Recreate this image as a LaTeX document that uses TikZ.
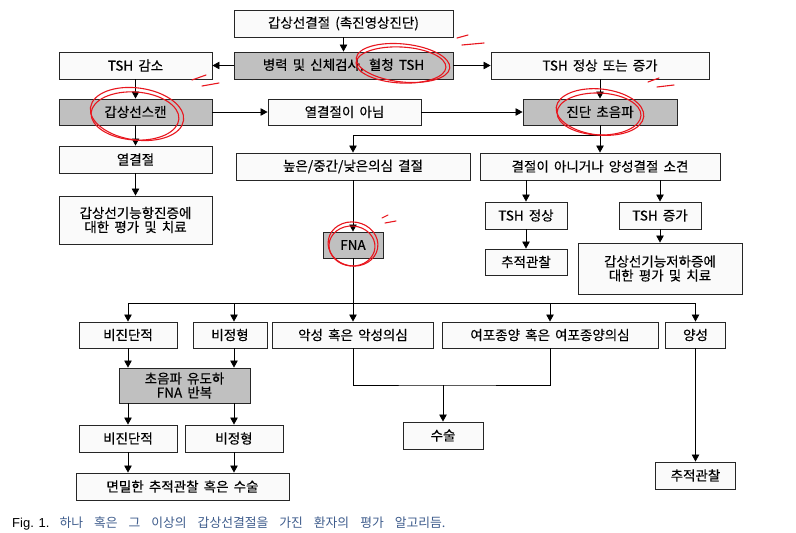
\documentclass[tikz,border=0pt]{standalone}
\usepackage{fontspec}
\setmainfont[FakeBold=0.3]{Noto Sans CJK KR}
\newfontfamily\figfont{Liberation Sans}
\newfontfamily\capfont{Noto Sans CJK KR}
\usetikzlibrary{arrows.meta}
\definecolor{boxgray}{RGB}{192,192,192}
\definecolor{boxwhite}{RGB}{250,250,250}
\definecolor{capblue}{RGB}{62,92,140}
\definecolor{penred}{RGB}{232,22,30}
\begin{document}
\begin{tikzpicture}[x=1pt,y=-1pt]
	\tikzstyle{every node}+=[inner sep=0pt]
	\tikzstyle{box}=[draw=black!85,line width=0.9pt,fill=boxwhite,minimum height=27pt,align=center,font={\fontsize{13.5}{14}\selectfont\spaceskip 0.38em\relax}]
	\tikzstyle{graybox}=[box,fill=boxgray]
	\tikzstyle{arr}=[-{Triangle[length=7pt,width=7.5pt]},line width=0.8pt]
	\tikzstyle{redpen}=[draw=penred,line width=1.1pt,line cap=round]
	\useasboundingbox (0,0) rectangle (796,533);
	\node[box,minimum width=219pt] (top) at (343.5,23.5) {갑상선결절 (촉진영상진단)};
	\node[graybox,minimum width=219pt] (hx) at (343.5,65.5) {병력 및 신체검사, 혈청 TSH};
	\node[box,minimum width=153pt] (tshlow) at (135.5,65.5) {TSH 감소};
	\node[box,minimum width=218pt] (tshhigh) at (600,65.5) {TSH 정상 또는 증가};
	\node[graybox,minimum width=153pt,minimum height=26pt] (scan) at (135.5,112) {갑상선스캔};
	\node[box,minimum width=153pt,minimum height=26pt] (nothot) at (344.5,112) {열결절이 아님};
	\node[graybox,minimum width=154pt,minimum height=26pt] (us) at (600,112) {진단 초음파};
	\node[box,minimum width=153pt] (hot) at (135.5,159.5) {열결절};
	\node[box,minimum width=153pt,minimum height=48pt] (hyper) at (135.5,220) {갑상선기능항진증에\\대한 평가 및 치료};
	\node[box,minimum width=234pt] (susp) at (353,166.5) {높은/중간/낮은의심 결절};
	\node[box,minimum width=240pt] (nonod) at (600,166.5) {결절이 아니거나 양성결절 소견};
	\node[box,minimum width=82pt] (tshn) at (526,215.5) {TSH 정상};
	\node[box,minimum width=82pt] (tshi) at (660,215.5) {TSH 증가};
	\node[box,minimum width=82pt,minimum height=26pt] (fuA) at (526,262) {추적관찰};
	\node[box,minimum width=164pt,minimum height=51pt] (hypo) at (660,268.5) {갑상선기능저하증에\\대한 평가 및 치료};
	\node[graybox,minimum width=60pt,minimum height=26pt] (fna) at (353,245) {FNA};
	\node[box,minimum width=98pt,minimum height=26pt] (ndA) at (128,335) {비진단적};
	\node[box,minimum width=74pt,minimum height=26pt] (atypA) at (230,335) {비정형};
	\node[box,minimum width=161pt,minimum height=26pt] (mal) at (353,335) {악성 혹은 악성의심};
	\node[box,minimum width=216pt,minimum height=26pt] (foll) at (550,335) {여포종양 혹은 여포종양의심};
	\node[box,minimum width=60pt,minimum height=26pt] (ben) at (695.5,335) {양성};
	\node[graybox,minimum width=131pt,minimum height=35pt] (rep) at (184.5,385.5) {초음파 유도하\\FNA 반복};
	\node[box,minimum width=98pt] (ndB) at (128,438.5) {비진단적};
	\node[box,minimum width=98pt] (atypB) at (234,438.5) {비정형};
	\node[box,minimum width=213pt] (close) at (182.5,486.5) {면밀한 추적관찰 혹은 수술};
	\node[box,minimum width=80pt] (surg) at (443,435.5) {수술};
	\node[box,minimum width=80pt] (fuB) at (695.5,475.5) {추적관찰};
	\coordinate (usj) at (600,135);
	\coordinate (fnaj) at (353,303);
	\coordinate (malj) at (443,385);
	\draw[arr] (top) -- (hx);
	\draw[arr] (hx) -- (tshlow);
	\draw[arr] (hx) -- (tshhigh);
	\draw[arr] (tshlow) -- (scan);
	\draw[arr] (scan) -- (hot);
	\draw[arr] (hot) -- (hyper);
	\draw[arr] (scan) -- (nothot);
	\draw[arr] (nothot) -- (us);
	\draw[arr] (tshhigh) -- (us);
	\draw[arr] (us) -- (nonod);
	\draw[arr] (usj) -| (susp);
	\draw[arr] (nonod.south -| tshn) -- (tshn);
	\draw[arr] (nonod.south -| tshi) -- (tshi);
	\draw[arr] (tshn) -- (fuA);
	\draw[arr] (tshi) -- (hypo);
	\draw[arr] (susp) -- (fna);
	\draw (fna) -- (fnaj);
	\draw[arr] (fnaj) -- (mal);
	\draw[arr] (fnaj) -| (ndA);
	\draw[arr] (fnaj) -| (atypA.north -| atypB.north);
	\draw[arr] (fnaj) -| (foll);
	\draw[arr] (fnaj) -| (ben);
	\draw[arr] (ndA) -- (ndA |- rep.north);
	\draw[arr] (atypA.south -| atypB) -- (rep.north -| atypB);
	\draw[arr] (rep.south -| ndB) -- (ndB);
	\draw[arr] (rep.south -| atypB) -- (atypB);
	\draw[arr] (ndB) -- (ndB |- close.north);
	\draw[arr] (atypB) -- (atypB |- close.north);
	\draw (mal) |- (malj) -| (foll);
	\draw[arr] (malj) -- (surg);
	\draw[arr] (ben) -- (fuB);
	\node[anchor=base west] (cap) at (12,527) {{\figfont\fontsize{13}{14}\selectfont Fig. 1.}\hspace{10pt}{\capfont\color{capblue}\fontsize{12.8}{14}\selectfont\spaceskip 11pt\relax 하나 혹은 그 이상의 갑상선결절을 가진 환자의 평가 알고리듬.}};
	\draw[redpen,rotate around={-6:(403,63)}] (403,63) ellipse [x radius=47, y radius=19];
	\draw[redpen,rotate around={-3:(401,65)}] (401,65) ellipse [x radius=45, y radius=18];
	\draw[redpen] (457,38) -- (468,35);
	\draw[redpen] (462,45) -- (484,43);
	\draw[redpen,rotate around={-8:(137,114)}] (137,114) ellipse [x radius=47, y radius=26];
	\draw[redpen,rotate around={-4:(135,116)}] (135,116) ellipse [x radius=44, y radius=24];
	\draw[redpen] (192,80) -- (206,75);
	\draw[redpen] (202,86) -- (219,83);
	\draw[redpen,rotate around={-6:(600,112)}] (600,112) ellipse [x radius=44, y radius=23];
	\draw[redpen,rotate around={-2:(599,114)}] (599,114) ellipse [x radius=42, y radius=21];
	\draw[redpen] (648,82) -- (659,78);
	\draw[redpen] (657,87) -- (674,85);
	\draw[redpen,rotate around={-10:(353,244)}] (353,244) ellipse [x radius=25, y radius=22];
	\draw[redpen,rotate around={-4:(352,246)}] (352,246) ellipse [x radius=23, y radius=20];
	\draw[redpen] (382,218) -- (388,215);
	\draw[redpen] (385,223) -- (396,221);
\end{tikzpicture}
\end{document}
